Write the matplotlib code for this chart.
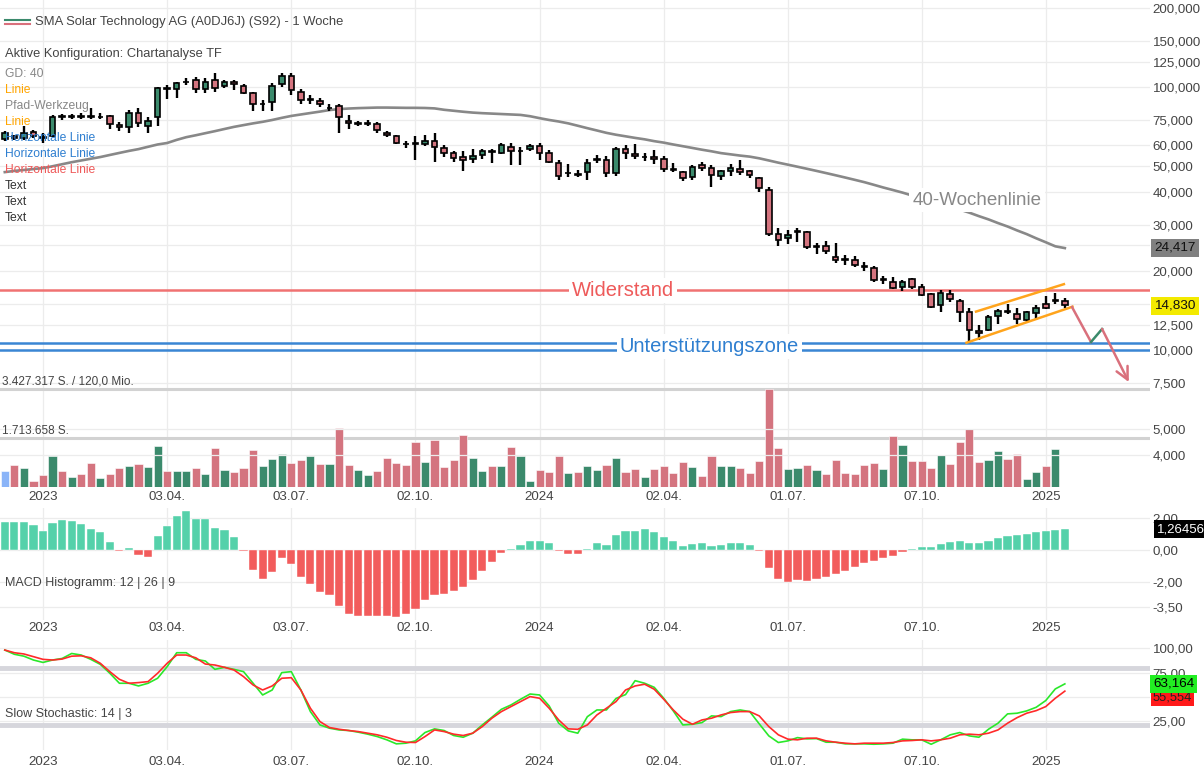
import matplotlib
matplotlib.use("Agg")
import matplotlib.pyplot as plt
from matplotlib.ticker import FixedLocator, FixedFormatter, NullLocator
from matplotlib.lines import Line2D
import numpy as np

plt.rcParams['font.family'] = ['Liberation Sans', 'DejaVu Sans']

# ---------------- data (weekly, week index 0 = first week of 2023) ----------------
first_week = -4
opens = [63.3, 65.3, 63.9, 67.7, 64.5, 65.1, 77.5, 77.2, 77.5, 77.5, 77.0, 77.6, 71.8, 70.4, 79.8, 71.2,
         76.8, 99.5, 98.0, 104.5, 106.0, 98.0, 106.8, 101.3, 104.7, 101.0, 94.7, 86.0, 87.5, 102.4, 110.6, 96.0,
         89.5, 88.2, 83.0, 84.5, 74.4, 72.7, 72.5, 72.4, 67.1, 65.3, 61.0, 61.5, 60.9, 62.6, 58.6, 56.1,
         54.1, 53.1, 55.0, 57.0, 56.4, 59.4, 57.0, 58.1, 59.8, 56.4, 51.6, 47.0, 46.8, 47.5, 53.0, 52.8,
         47.0, 58.1, 55.8, 54.0, 54.1, 53.1, 48.8, 47.5, 45.4, 50.4, 49.4, 46.0, 48.0, 49.0, 47.8, 45.1,
         40.7, 27.6, 26.6, 28.0, 28.0, 24.6, 24.8, 22.5, 22.1, 22.0, 20.9, 20.5, 18.5, 18.2, 17.3, 18.6,
         17.3, 16.3, 14.8, 16.3, 15.3, 14.0, 11.8, 11.9, 13.5, 14.1, 13.7, 13.0, 13.8, 15.0, 15.3, 15.3]
highs = [68.0, 66.0, 70.9, 68.7, 67.0, 78.3, 79.0, 79.0, 79.5, 83.0, 80.0, 78.5, 74.0, 81.6, 83.0, 77.0,
         100.0, 102.0, 105.0, 108.0, 109.0, 108.0, 113.0, 106.0, 106.0, 102.5, 96.0, 89.5, 103.3, 113.0, 113.5, 98.5,
         93.0, 91.0, 86.0, 86.5, 78.0, 74.5, 75.0, 74.0, 68.0, 66.0, 62.5, 65.3, 65.8, 66.8, 60.0, 57.0,
         57.0, 58.0, 58.0, 58.0, 61.5, 61.5, 59.0, 61.0, 61.5, 57.5, 52.8, 51.0, 48.5, 53.1, 55.0, 54.5,
         59.0, 60.0, 60.5, 56.0, 57.5, 54.5, 51.5, 48.0, 50.5, 52.0, 50.4, 48.5, 51.0, 53.0, 48.5, 45.5,
         41.6, 29.0, 28.7, 29.0, 28.3, 25.5, 26.0, 25.5, 22.9, 22.7, 21.6, 20.8, 19.2, 19.0, 18.4, 18.8,
         17.8, 16.5, 16.9, 16.9, 15.7, 14.5, 12.4, 13.6, 14.3, 15.0, 14.4, 14.1, 14.8, 16.0, 16.5, 15.8]
lows = [62.5, 63.0, 62.9, 63.9, 61.5, 64.5, 75.0, 75.5, 75.5, 75.5, 75.5, 69.5, 68.0, 67.1, 70.4, 67.0,
        71.0, 90.5, 91.0, 101.5, 95.0, 95.0, 96.0, 99.0, 97.5, 94.0, 81.0, 81.0, 81.0, 100.5, 93.5, 86.0,
        86.0, 84.0, 81.0, 67.0, 69.0, 71.0, 71.0, 67.0, 64.8, 60.5, 58.8, 52.8, 59.5, 52.0, 54.0, 52.0,
        48.0, 51.5, 53.5, 51.5, 55.5, 50.4, 50.4, 57.2, 53.0, 51.5, 44.3, 45.5, 45.5, 44.5, 51.5, 45.5,
        46.0, 53.5, 53.5, 52.5, 51.0, 47.5, 47.5, 44.0, 44.5, 48.0, 41.6, 44.5, 46.0, 46.5, 45.0, 40.0,
        27.2, 24.8, 25.3, 25.8, 24.3, 23.2, 23.2, 21.4, 21.0, 20.6, 20.0, 18.2, 17.8, 17.0, 16.8, 17.0,
        16.0, 14.5, 14.0, 15.2, 12.8, 10.65, 10.9, 11.8, 12.6, 13.7, 12.6, 12.8, 13.0, 14.3, 15.0, 14.5]
closes = [67.1, 64.0, 66.7, 65.3, 64.0, 77.2, 77.0, 77.5, 77.2, 77.0, 77.3, 72.4, 70.6, 79.4, 72.8, 74.4,
          99.0, 98.5, 103.3, 105.0, 98.0, 104.7, 99.0, 104.7, 103.0, 95.2, 86.3, 86.5, 101.0, 110.6, 97.4, 89.3,
          89.8, 86.6, 83.5, 76.8, 72.8, 73.0, 73.0, 68.5, 66.0, 61.2, 60.5, 61.0, 62.6, 59.2, 56.1, 53.6,
          52.8, 54.7, 57.0, 56.5, 60.2, 57.4, 57.3, 59.8, 56.1, 52.0, 46.0, 47.2, 46.5, 51.6, 53.3, 47.0,
          58.1, 56.1, 54.6, 54.2, 53.1, 49.0, 48.4, 45.1, 49.7, 49.4, 46.4, 47.8, 49.4, 47.5, 46.5, 41.2,
          27.6, 26.2, 27.5, 28.3, 24.6, 24.8, 23.7, 22.0, 22.0, 21.1, 20.7, 18.5, 18.6, 17.2, 18.2, 17.3,
          16.2, 14.6, 16.5, 15.6, 13.9, 11.9, 11.6, 13.3, 14.1, 13.9, 13.1, 13.9, 14.5, 14.5, 15.5, 14.83]

ma40 = [47.5, 48.0, 48.4, 48.8, 49.2, 50.0, 50.9, 51.8, 52.6, 53.4, 54.2, 55.2, 56.2, 57.2, 58.1, 59.3,
        60.5, 61.3, 63.0, 64.5, 65.6, 66.8, 68.0, 69.3, 70.6, 71.7, 72.8, 73.8, 75.0, 76.4, 77.7, 78.7,
        79.7, 80.7, 81.8, 82.5, 82.9, 83.2, 83.4, 83.6, 83.6, 83.5, 83.4, 83.4, 83.3, 83.0, 82.0, 81.3,
        80.6, 80.0, 79.6, 79.3, 79.0, 78.7, 78.4, 77.5, 76.2, 75.0, 74.0, 72.8, 71.3, 69.8, 68.4, 67.0,
        65.9, 65.0, 64.1, 63.3, 62.3, 61.5, 60.5, 59.6, 58.7, 57.8, 57.0, 56.1, 55.5, 54.9, 54.4, 53.6,
        52.6, 51.6, 50.7, 49.8, 48.9, 48.0, 47.1, 46.2, 45.3, 44.4, 43.5, 42.5, 41.5, 40.6, 39.7, 38.7,
        37.8, 36.9, 36.0, 35.1, 34.2, 33.3, 32.3, 31.4, 30.4, 29.5, 28.5, 27.6, 26.6, 25.7, 24.8, 24.417]

# volume in million shares (last week has no bar yet)
volume_mio = [0.56, 0.76, 0.66, 0.21, 0.41, 1.08, 0.56, 0.35, 0.45, 0.85, 0.32, 0.45, 0.67, 0.74, 0.82, 0.69,
              1.43, 0.56, 0.56, 0.56, 0.67, 0.45, 1.36, 0.60, 0.53, 0.66, 1.28, 0.72, 0.99, 1.14, 0.83, 0.95,
              1.08, 0.82, 0.82, 2.06, 0.76, 0.59, 0.41, 0.56, 1.02, 0.83, 0.76, 1.56, 0.88, 1.65, 0.70, 0.94,
              1.82, 1.00, 0.55, 0.75, 0.73, 1.40, 1.08, 0.22, 0.59, 0.53, 1.08, 0.48, 0.52, 0.75, 0.59, 0.77,
              1.01, 0.51, 0.62, 0.35, 0.64, 0.73, 0.49, 0.89, 0.70, 0.37, 1.07, 0.72, 0.72, 0.66, 0.48, 0.91,
              3.427317, 1.36, 0.64, 0.66, 0.76, 0.61, 0.45, 0.93, 0.49, 0.45, 0.77, 0.84, 0.64, 1.78, 1.47, 0.91,
              0.91, 0.65, 1.12, 0.80, 1.57, 2.02, 0.86, 0.93, 1.26, 0.99, 1.17, 0.29, 0.54, 0.75, 1.32]
vol_max = 3427317
vol_half = 1713658

macd_hist = [1.75, 1.71, 1.71, 1.54, 1.17, 1.65, 1.83, 1.77, 1.60, 1.30, 1.09, 0.47, -0.06, 0.10, -0.31, -0.43,
             0.86, 1.48, 2.10, 2.39, 1.89, 1.89, 1.34, 1.21, 0.78, -0.06, -1.23, -1.79, -1.34, -0.47, -0.86, -1.65,
             -2.10, -2.57, -2.78, -3.46, -3.95, -4.07, -4.05, -4.05, -4.07, -4.16, -3.97, -3.62, -3.09, -2.78, -2.72, -2.51,
             -2.26, -1.85, -1.28, -0.76, -0.16, 0.04, 0.31, 0.58, 0.58, 0.41, -0.06, -0.25, -0.25, 0.06, 0.41, 0.29,
             0.91, 1.19, 1.19, 1.28, 1.13, 0.78, 0.58, 0.23, 0.35, 0.41, 0.23, 0.31, 0.41, 0.41, 0.31, -0.06,
             -1.13, -1.81, -1.98, -1.85, -1.91, -1.81, -1.69, -1.48, -1.30, -1.07, -0.78, -0.68, -0.49, -0.37, -0.14, 0.06,
             0.16, 0.16, 0.37, 0.47, 0.56, 0.45, 0.45, 0.56, 0.76, 0.86, 0.95, 1.01, 1.11, 1.17, 1.23, 1.26456]

stoch_k = [98.4, 94.0, 92.0, 88.0, 85.5, 88.0, 89.6, 94.8, 93.2, 88.7, 83.5, 74.2, 63.8, 63.8, 61.0, 63.8,
           69.0, 81.1, 95.6, 95.6, 88.7, 87.0, 78.3, 80.4, 78.3, 75.9, 63.8, 51.6, 56.8, 74.9, 75.9, 56.8,
           34.3, 20.4, 17.0, 15.2, 14.6, 12.9, 10.8, 8.3, 4.9, 0.7, 1.4, 3.8, 12.5, 16.3, 14.6, 9.4,
           7.6, 11.8, 20.4, 28.4, 36.7, 41.2, 47.1, 52.6, 51.6, 40.2, 22.2, 14.2, 11.8, 29.0, 36.0, 36.0,
           48.0, 52.0, 66.5, 63.8, 59.6, 48.2, 35.0, 20.4, 21.1, 22.8, 29.8, 29.1, 34.3, 36.0, 34.3, 21.5,
           9.0, 2.1, 3.8, 7.2, 5.9, 6.2, 2.4, 2.4, 0.7, 0.7, 0.7, 0.3, 0.7, 1.4, 5.6, 4.9,
           4.9, 0.3, 4.9, 10.1, 12.5, 9.0, 7.6, 15.9, 22.2, 31.9, 32.6, 35.0, 38.8, 45.8, 57.9, 63.164]
stoch_d = [98.4, 95.6, 94.3, 91.5, 88.7, 88.0, 89.0, 92.0, 92.4, 90.3, 84.6, 75.9, 67.9, 63.8, 64.5, 65.5,
           74.2, 84.6, 93.2, 93.2, 90.3, 83.8, 82.8, 80.4, 77.6, 70.7, 62.0, 56.8, 61.0, 69.0, 69.6, 56.8,
           37.8, 23.9, 17.7, 15.9, 14.6, 13.5, 11.8, 10.1, 7.6, 4.2, 2.4, 2.1, 8.3, 15.2, 13.5, 10.8,
           9.4, 11.8, 18.7, 27.4, 34.3, 39.5, 44.7, 49.9, 48.2, 37.8, 25.6, 16.3, 15.9, 20.4, 30.8, 37.8,
           44.7, 56.8, 61.0, 62.8, 57.6, 47.1, 36.0, 26.4, 21.1, 25.6, 27.4, 30.8, 33.3, 34.3, 34.3, 29.8,
           18.7, 10.1, 5.6, 4.9, 6.6, 6.6, 3.8, 2.4, 1.4, 0.7, 1.4, 1.4, 1.4, 2.1, 3.8, 4.2,
           4.9, 3.8, 4.9, 6.6, 10.1, 10.8, 10.1, 11.8, 15.2, 22.2, 28.0, 32.6, 35.3, 39.5, 48.2, 55.6]

date_weeks = [0, 13, 26, 39, 52, 65, 78, 92, 105]
date_labels = ["2023", "03.04.", "03.07.", "02.10.", "2024", "02.04.", "01.07.", "07.10.", "2025"]

price_ticks = [200, 150, 125, 100, 75, 60, 50, 40, 30, 20, 12.5, 10, 7.5, 5, 4]
price_tick_labels = ["200,000", "150,000", "125,000", "100,000", "75,000", "60,000", "50,000", "40,000",
                     "30,000", "20,000", "12,500", "10,000", "7,500", "5,000", "4,000"]
price_grid_extra = [25, 15]
macd_ticks = [2, 0, -2, -3.5]
macd_tick_labels = ["2,00", "0,00", "-2,00", "-3,50"]
stoch_ticks = [100, 75, 25]
stoch_tick_labels = ["100,00", "75,00", "25,00"]
stoch_grid = [100, 75, 50, 25]
stoch_bands = [80, 20]

resistance = 16.9
support_zone = [10.65, 10.0]
channel_upper = [(97.7, 14.0), (106.9, 17.8)]
channel_lower = [(96.7, 10.66), (107.8, 14.61)]
path_down1 = [(107.75, 14.57), (109.74, 10.73)]
path_up = [(109.74, 10.73), (110.9, 12.02)]
path_down2 = [(110.9, 12.02), (113.7, 7.55)]

# ---------------- styling / layout ----------------
W, H = 1204, 775
GREEN = '#3b8a6c'
PINK = '#d4747f'
MACD_G = '#55d1aa'
MACD_R = '#f25c5c'
GRID = '#ececec'
TXT = '#444444'
AX_FS = 9.6

weeks = np.arange(first_week, first_week + len(closes))
vweeks = weeks[:len(volume_mio)]

fig = plt.figure(figsize=(W / 100, H / 100), dpi=100)
fig.patch.set_facecolor('white')

def prect(top, bottom, left=0, right=1150):
    return [left / W, 1 - bottom / H, (right - left) / W, (bottom - top) / H]

X0, STEP = 43.0, 9.55
xlim = ((0 - X0) / STEP, (1150 - X0) / STEP)

def style_axis(a):
    for s in a.spines.values():
        s.set_visible(False)
    a.set_xlim(*xlim)

# volume axes (behind)
ax_v = fig.add_axes(prect(0, 487))
style_axis(ax_v)
ax_v.set_ylim(0, 17.03e6)
ax_v.set_xticks([])
ax_v.set_yticks([])
vcolors = [GREEN if closes[k] >= opens[k] else PINK for k in range(len(volume_mio))]
vcolors[0] = '#8ab4f8'
ax_v.bar(vweeks, np.array(volume_mio) * 1e6, width=0.85, color=vcolors, edgecolor='white', linewidth=0.4, zorder=2)
for xv in date_weeks:
    ax_v.axvline(xv, color=GRID, lw=0.9, zorder=0)
for lv in [vol_max, vol_half]:
    ax_v.axhline(lv, color='#d2d2d2', lw=2.2, zorder=1)

# price axes
ax = fig.add_axes(prect(0, 487))
ax.patch.set_alpha(0)
style_axis(ax)
ax.set_yscale('log')
ax.set_ylim(3.012, 214.5)
ax.yaxis.set_major_locator(FixedLocator(price_ticks))
ax.yaxis.set_major_formatter(FixedFormatter(price_tick_labels))
ax.yaxis.set_minor_locator(NullLocator())
ax.yaxis.tick_right()
ax.tick_params(axis='y', length=0, pad=2, labelsize=AX_FS, labelcolor=TXT)
ax.set_xticks(date_weeks)
ax.set_xticklabels(date_labels)
ax.tick_params(axis='x', length=0, pad=3, labelsize=AX_FS, labelcolor=TXT)
for pv in price_ticks + price_grid_extra:
    ax.axhline(pv, color=GRID, lw=0.9, zorder=0)

# candles
o = np.array(opens); c = np.array(closes); hi = np.array(highs); lo = np.array(lows)
ax.vlines(weeks, lo, hi, color='black', lw=1.7, zorder=3)
bcolors = [GREEN if cc >= oo else PINK for oo, cc in zip(o, c)]
ax.bar(weeks, np.abs(c - o), bottom=np.minimum(o, c), width=0.58, color=bcolors,
       edgecolor='black', linewidth=1.2, zorder=4)

# 40-week MA
ax.plot(weeks, ma40, color='#888888', lw=1.9, zorder=2)

# horizontal lines
ax.axhline(resistance, color='#f07272', lw=1.8, zorder=2)
for sv in support_zone:
    ax.axhline(sv, color='#3a86d4', lw=1.8, zorder=2)

# channel and path
for seg in (channel_upper, channel_lower):
    ax.plot([p[0] for p in seg], [p[1] for p in seg], color='#ffa41c', lw=1.8, zorder=5)
ax.plot([p[0] for p in path_down1], [p[1] for p in path_down1], color='#d9707c', lw=1.8, zorder=5)
ax.plot([p[0] for p in path_up], [p[1] for p in path_up], color='#3a8a6b', lw=1.8, zorder=5)
ax.annotate('', xy=path_down2[1], xytext=path_down2[0],
            arrowprops=dict(arrowstyle='->', color='#d9707c', lw=1.8, mutation_scale=22,
                            shrinkA=0, shrinkB=0), zorder=5)

# labels on chart
ax.text(60.7, resistance, 'Widerstand', color='#ee5a5a', fontsize=14.5, ha='center', va='center',
        bbox=dict(boxstyle='square,pad=0.15', fc='white', ec='none'), zorder=6)
ax.text(69.8, 10.3, 'Unterstützungszone', color='#2f7fd0', fontsize=14.5, ha='center', va='center',
        bbox=dict(boxstyle='square,pad=0.15', fc='white', ec='none'), zorder=6)
ax.text(97.8, 37.2, '40-Wochenlinie', color='#888888', fontsize=13.5, ha='center', va='center',
        bbox=dict(boxstyle='square,pad=0.2', fc='white', ec='none'), zorder=6)

# MACD axes
ax_m = fig.add_axes(prect(508, 620))
style_axis(ax_m)
ax_m.set_ylim(-4.32, 2.59)
mcol = [MACD_G if v >= 0 else MACD_R for v in macd_hist]
ax_m.bar(weeks, macd_hist, width=0.85, color=mcol, edgecolor='white', linewidth=0.3, zorder=2)
ax_m.yaxis.tick_right()
ax_m.set_yticks(macd_ticks)
ax_m.set_yticklabels(macd_tick_labels)
ax_m.tick_params(axis='y', length=0, pad=2, labelsize=AX_FS, labelcolor=TXT)
ax_m.set_xticks(date_weeks)
ax_m.set_xticklabels(date_labels)
ax_m.tick_params(axis='x', length=0, pad=1.5, labelsize=AX_FS, labelcolor=TXT)
for mv in macd_ticks:
    ax_m.axhline(mv, color=GRID, lw=0.9, zorder=0)
for xv in date_weeks:
    ax_m.axvline(xv, color=GRID, lw=0.9, zorder=0)

# Stochastic axes
ax_s = fig.add_axes(prect(640, 750))
style_axis(ax_s)
ax_s.set_ylim(-5.7, 108.85)
ax_s.plot(weeks, stoch_k, color='#2ae82a', lw=1.2, zorder=3)
ax_s.plot(weeks, stoch_d, color='#ff2a2a', lw=1.2, zorder=3)
for bv in stoch_bands:
    ax_s.axhline(bv, color='#d6d6dc', lw=3.5, zorder=1)
ax_s.yaxis.tick_right()
ax_s.set_yticks(stoch_ticks)
ax_s.set_yticklabels(stoch_tick_labels)
ax_s.tick_params(axis='y', length=0, pad=2, labelsize=AX_FS, labelcolor=TXT)
ax_s.set_xticks(date_weeks)
ax_s.set_xticklabels(date_labels)
ax_s.tick_params(axis='x', length=0, pad=4.5, labelsize=AX_FS, labelcolor=TXT)
for sv in stoch_grid:
    ax_s.axhline(sv, color=GRID, lw=0.9, zorder=0)
for xv in date_weeks:
    ax_s.axvline(xv, color=GRID, lw=0.9, zorder=0)

# ---------------- figure-level texts ----------------
def ftext(x, y, s, **kw):
    fig.text(x / W, 1 - y / H, s, va='center', **kw)

fig.add_artist(Line2D([5 / W, 30 / W], [1 - 20 / H, 1 - 20 / H], color=GREEN, lw=1.5))
fig.add_artist(Line2D([5 / W, 30 / W], [1 - 24 / H, 1 - 24 / H], color='#d9707c', lw=1.5))
ftext(35, 22, 'SMA Solar Technology AG (A0DJ6J) (S92) - 1 Woche', fontsize=9.4, color=TXT)
ftext(5, 54, 'Aktive Konfiguration: Chartanalyse TF', fontsize=9.3, color=TXT)
legend_items = [('GD: 40', '#888888'), ('Linie', '#ffa500'), ('Pfad-Werkzeug', '#888888'),
                ('Linie', '#ffa500'), ('Horizontale Linie', '#2f7fd0'), ('Horizontale Linie', '#2f7fd0'),
                ('Horizontale Linie', '#ee5a5a'), ('Text', '#333333'), ('Text', '#333333'), ('Text', '#333333')]
for k, (s, col) in enumerate(legend_items):
    ftext(5, 74 + 16 * k, s, fontsize=8.7, color=col)

ftext(2, 382, '3.427.317 S. / 120,0 Mio.', fontsize=8.5, color=TXT)
ftext(2, 431, '1.713.658 S.', fontsize=8.5, color=TXT)
ftext(5, 583, 'MACD Histogramm: 12 | 26 | 9', fontsize=9, color=TXT)
ftext(5, 714, 'Slow Stochastic: 14 | 3', fontsize=9, color=TXT)

# value boxes
ftext(1154, 248, '24,417', fontsize=9.7, color='#111111',
      bbox=dict(boxstyle='square,pad=0.25', fc='#808080', ec='none'))
ftext(1154, 306, '14,830', fontsize=9.7, color='#111111',
      bbox=dict(boxstyle='square,pad=0.25', fc='#f3ea00', ec='none'))
ftext(1157, 529, '1,26456', fontsize=9.5, color='white',
      bbox=dict(boxstyle='square,pad=0.2', fc='black', ec='none'))
ftext(1153, 698, '55,554', fontsize=9.3, color='#222222',
      bbox=dict(boxstyle='square,pad=0.15', fc='#ff1a1a', ec='none'))
ftext(1153, 684, '63,164', fontsize=9.7, color='black',
      bbox=dict(boxstyle='square,pad=0.2', fc='#22ee22', ec='none'))

fig.savefig('out.png', dpi=100, facecolor='white')
